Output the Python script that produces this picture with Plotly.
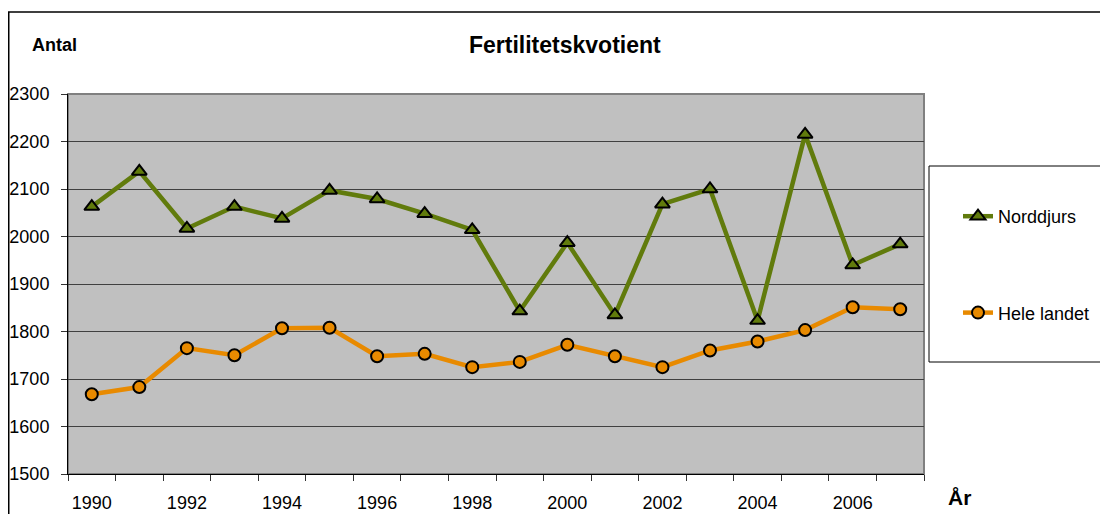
import plotly.graph_objects as go

years = list(range(1990, 2008))
norddjurs = [2063, 2137, 2017, 2063, 2038, 2097, 2079, 2048, 2014, 1843,
             1987, 1835, 2068, 2100, 1823, 2215, 1940, 1984]
hele_landet = [1668, 1683, 1765, 1750, 1807, 1808, 1748, 1753, 1725, 1736,
               1772, 1748, 1725, 1760, 1779, 1803, 1851, 1847]
tick_years = list(range(1990, 2008, 2))
tick_labels = [str(y) for y in tick_years]

# page body has an 8px margin; figure occupies 8..1108 x 8..514
OFF = 8
W, H = 1108 - OFF, 514 - OFF
L, R, T, B = 68 - OFF, 184, 94 - OFF, 40
PW, PH = W - L - R, H - T - B


def px(x):
    return (x - OFF - L) / PW


def py(y):
    return (H - B - (y - OFF)) / PH


FONT = "Liberation Sans, Arial, sans-serif"
GREEN = "#617B0C"
ORANGE = "#E88A00"

fig = go.Figure()
fig.add_trace(go.Scatter(
    x=years, y=norddjurs, name="Norddjurs", mode="lines+markers",
    legendgroup="a",
    line=dict(color=GREEN, width=4.5),
    marker=dict(symbol="triangle-up", size=13, color=GREEN,
                line=dict(color="black", width=2)),
))
fig.add_trace(go.Scatter(
    x=years, y=hele_landet, name="Hele landet", mode="lines+markers",
    legendgroup="b",
    line=dict(color=ORANGE, width=4.5),
    marker=dict(symbol="circle", size=12, color=ORANGE,
                line=dict(color="black", width=2)),
))

fig.update_layout(
    width=W, height=H,
    margin=dict(l=L, r=R, t=T, b=B, autoexpand=False),
    paper_bgcolor="white",
    plot_bgcolor="#C0C0C0",
    font=dict(family=FONT, size=18, color="black"),
    showlegend=True,
    legend=dict(
        x=px(958), y=py(198), xanchor="left", yanchor="top",
        bgcolor="rgba(0,0,0,0)", borderwidth=0,
        font=dict(size=18), traceorder="grouped", tracegroupgap=70,
    ),
    xaxis=dict(
        range=[1989.5, 2007.5], tickmode="array", tickvals=tick_years,
        ticktext=tick_labels, ticks="", showgrid=False, zeroline=False,
        showline=True, linecolor="black", linewidth=1,
        ticklabelstandoff=12,
        minor=dict(tick0=1989.5, dtick=1, ticks="outside", ticklen=6,
                   tickcolor="#333333", tickwidth=1, showgrid=False),
    ),
    yaxis=dict(
        range=[1500, 2300], dtick=100, ticks="outside", ticklen=6,
        tickcolor="#333333", showgrid=True, gridcolor="#404040",
        gridwidth=1, zeroline=False, showline=True, linecolor="black",
        linewidth=1, ticklabelstandoff=8,
    ),
    shapes=[
        dict(type="rect", xref="paper", yref="paper", x0=0, x1=1, y0=0, y1=1,
             line=dict(color="#808080", width=2), layer="below"),
        dict(type="rect", xref="paper", yref="paper",
             x0=px(929), x1=px(1106.5), y0=py(362), y1=py(166),
             line=dict(color="black", width=1), fillcolor="white",
             layer="below"),
        dict(type="rect", xref="paper", yref="paper",
             x0=px(8.75), x1=px(1130), y0=py(540), y1=py(12),
             line=dict(color="black", width=1.5), layer="below"),
    ],
    annotations=[
        dict(text="<b>Antal</b>", x=px(30), y=py(45), xref="paper",
             yref="paper", xanchor="left", yanchor="middle", showarrow=False,
             font=dict(size=18)),
        dict(text="<b>Fertilitetskvotient</b>", x=px(565), y=py(45),
             xref="paper", yref="paper", xanchor="center", yanchor="middle",
             showarrow=False, font=dict(size=23)),
        dict(text="<b>År</b>", x=px(946), y=py(497), xref="paper",
             yref="paper", xanchor="left", yanchor="middle", showarrow=False,
             font=dict(size=21)),
    ],
)

fig.write_html("out.html")
